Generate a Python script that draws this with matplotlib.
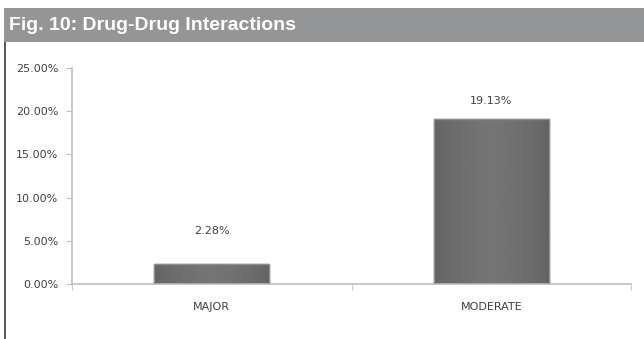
import numpy as np
import matplotlib.pyplot as plt
from matplotlib.patches import Rectangle

categories = ['MAJOR', 'MODERATE']
values = [2.28, 19.13]
yticks = [0, 5, 10, 15, 20, 25]
title = 'Fig. 10: Drug-Drug Interactions'

# gap between bar top and its value label, in pixels
label_gap = [28, 13]

W, H = 644, 339
fig = plt.figure(figsize=(W / 100, H / 100), dpi=100)

# header band and left rule
fig.patches.append(Rectangle((4 / W, 1 - 42 / H), 1, 34 / H, transform=fig.transFigure,
                             facecolor='#939596', edgecolor='none'))
fig.patches.append(Rectangle((4 / W, 0), 2 / W, 1 - 42 / H, transform=fig.transFigure,
                             facecolor='#5a5a5a', edgecolor='none'))
fig.text(9 / W, 1 - 25 / H, title, color='white', fontsize=14, fontweight='bold',
         family='Liberation Sans', va='center', ha='left')

ax = fig.add_axes([72 / W, 1 - 284 / H, (631 - 72) / W, (284 - 68) / H])
x = np.arange(len(categories))
width = 0.41
bars = ax.bar(x, values, width=width, color='#6a6b6b', edgecolor='#8c8d8d', linewidth=1, zorder=2)

# soft vertical shading on each bar
grad = np.linspace(0, 1, 64)
shade = 0.38 + 0.08 * (1 - np.abs(grad - 0.5) * 2) ** 0.5
img = np.tile(shade, (2, 1))
for b in bars:
    bx, bw, bh = b.get_x(), b.get_width(), b.get_height()
    im = ax.imshow(img, cmap='gray', vmin=0, vmax=1, aspect='auto',
                   extent=(bx, bx + bw, 0, bh), zorder=2.5, interpolation='bilinear')
    im.set_clip_path(b)
    ax.add_patch(Rectangle((bx, 0), bw, bh, facecolor='none', edgecolor='#8c8d8d',
                           linewidth=1, zorder=3))

for xi, v, g in zip(x, values, label_gap):
    ax.annotate(f'{v:.2f}%', (xi, v), xytext=(0, g * 0.72), textcoords='offset points',
                ha='center', va='bottom', fontsize=8, color='#404040')

ax.set_xlim(-0.5, len(categories) - 0.5)
ax.set_ylim(0, 25)
ax.set_yticks(yticks)
ax.set_yticklabels([f'{t:.2f}%' for t in yticks])
ax.set_xticks(x)
ax.set_xticklabels(categories)
ax.set_xticks([-0.5, 0.5, 1.5], minor=True)
ax.tick_params(axis='x', which='major', length=0, pad=13, labelsize=8, labelcolor='#404040')
ax.tick_params(axis='x', which='minor', length=4, color='#bfbfbf')
ax.tick_params(axis='y', length=4, color='#bfbfbf', labelsize=8, labelcolor='#404040', pad=6)

for s in ['top', 'right']:
    ax.spines[s].set_visible(False)
for s in ['left', 'bottom']:
    ax.spines[s].set_color('#bfbfbf')
    ax.spines[s].set_linewidth(1.2)

fig.savefig('out.png', dpi=100)
